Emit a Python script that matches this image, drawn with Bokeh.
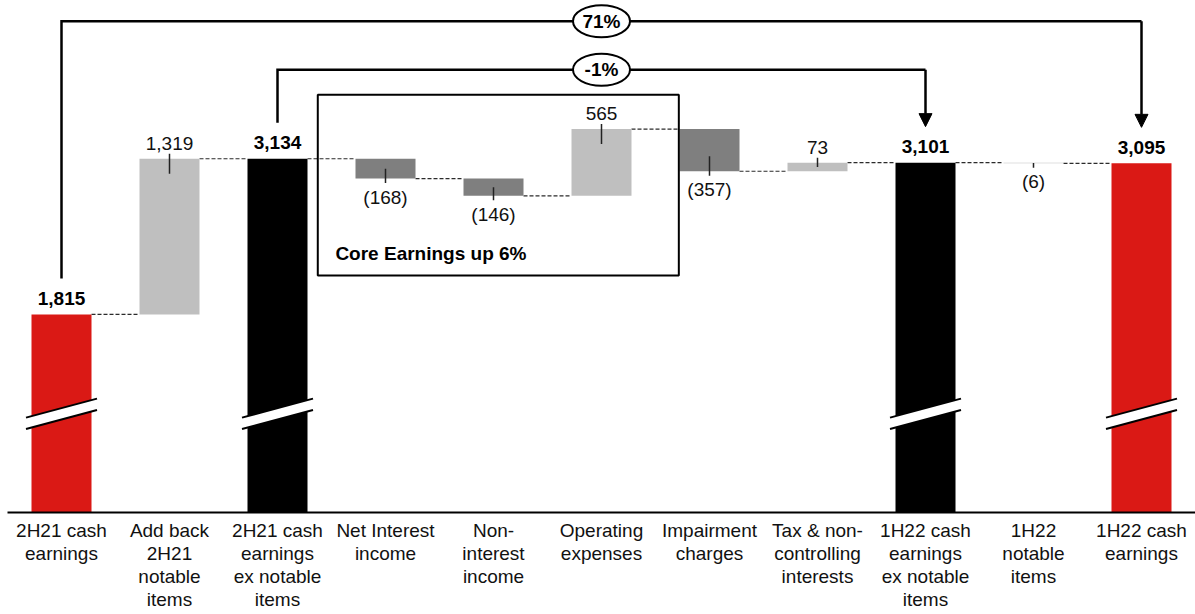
from bokeh.plotting import figure
from bokeh.models import Range1d, FixedTicker, ColumnDataSource, Arrow, NormalHead
from bokeh.core.properties import value
from bokeh.embed import file_html
from bokeh.resources import INLINE

# ---- data -------------------------------------------------------------
categories = [
    "2H21 cash\nearnings",
    "Add back\n2H21\nnotable\nitems",
    "2H21 cash\nearnings\nex notable\nitems",
    "Net Interest\nincome",
    "Non-\ninterest\nincome",
    "Operating\nexpenses",
    "Impairment\ncharges",
    "Tax & non-\ncontrolling\ninterests",
    "1H22 cash\nearnings\nex notable\nitems",
    "1H22\nnotable\nitems",
    "1H22 cash\nearnings",
]
step_kind = ["total", "delta", "total", "delta", "delta", "delta",
             "delta", "delta", "total", "delta", "total"]
amounts = [1815, 1319, 3134, -168, -146, 565, -357, 73, 3101, -6, 3095]
bar_colors = ["#DA1915", "#BFBFBF", "#000000", "#7F7F7F", "#7F7F7F", "#BFBFBF",
              "#7F7F7F", "#BFBFBF", "#000000", "#BFBFBF", "#DA1915"]
# growth brackets: (from index, to index)
brackets = [(0, 10), (2, 8)]
core_note = "Core Earnings up 6%"

# ---- layout constants -------------------------------------------------
FRAME_W, FRAME_H = 1188, 512
Y_FLOOR, Y_TOP = 136.0, 4475.0          # truncated value axis
UPP = (Y_TOP - Y_FLOOR) / FRAME_H       # value units per pixel
BW = 60 / 108                           # bar width in category units
FONT = value("Liberation Sans")
REG_SIZE = "19px"
BOLD_SIZE = "19px"


def px(n):
    return n * UPP


# ---- waterfall geometry -------------------------------------------------
bottoms, tops, levels = [], [], []
level = 0
for kind, amt in zip(step_kind, amounts):
    if kind == "total":
        b, t = Y_FLOOR, amt
        level = amt
    else:
        b, t = min(level, level + amt), max(level, level + amt)
        level += amt
    bottoms.append(b)
    tops.append(t)
    levels.append(level)

xs = list(range(len(categories)))

p = figure(frame_width=FRAME_W, frame_height=FRAME_H,
           x_range=Range1d(-0.5, 10.5), y_range=Range1d(Y_FLOOR, Y_TOP),
           output_backend="svg", toolbar_location=None, y_axis_location=None,
           min_border_left=7, min_border_right=0, min_border_top=0,
           min_border_bottom=0)
p.grid.visible = False
p.outline_line_color = None
p.background_fill_color = "white"

# connectors between consecutive bars
p.segment(x0=[i + BW / 2 for i in xs[:-1]], x1=[i + 1 - BW / 2 for i in xs[:-1]],
          y0=levels[:-1], y1=levels[:-1], line_color="#2b2b2b",
          line_width=1.2, line_dash="4 2")

# bars
src = ColumnDataSource(dict(x=xs, bottom=bottoms, top=tops, color=bar_colors))
p.vbar(x="x", width=BW, bottom="bottom", top="top", fill_color="color",
       line_color=None, source=src)

# axis-break marks on the full-height bars
yc = Y_FLOOR + px(98.7)
hw, rise, gap = 35.5 / 108, px(9.5), px(5.7)
brk_xs, brk_ys, l_xs, l_ys = [], [], [], []
for i, kind in enumerate(step_kind):
    if kind != "total":
        continue
    brk_xs.append([i - hw, i + hw, i + hw, i - hw])
    brk_ys.append([yc - rise - gap, yc + rise - gap, yc + rise + gap, yc - rise + gap])
    l_xs += [[i - hw, i + hw], [i - hw, i + hw]]
    l_ys += [[yc - rise - gap, yc + rise - gap], [yc - rise + gap, yc + rise + gap]]
p.patches(brk_xs, brk_ys, fill_color="white", line_color=None)
p.multi_line(l_xs, l_ys, line_color="black", line_width=2)

# leader ticks and labels for the steps
lead_x0, lead_y0, lead_y1 = [], [], []
pos_x, pos_y, pos_t = [], [], []
neg_x, neg_y, neg_t = [], [], []
tot_x, tot_y, tot_t = [], [], []
for i, (kind, amt) in enumerate(zip(step_kind, amounts)):
    if kind == "total":
        tot_x.append(i); tot_y.append(amt); tot_t.append(f"{amt:,}")
        continue
    inside = min(px(15), (tops[i] - bottoms[i]) / 2)
    lead_x0.append(i)
    if amt >= 0:
        lead_y0.append(tops[i] + px(5)); lead_y1.append(tops[i] - inside)
        pos_x.append(i); pos_y.append(tops[i]); pos_t.append(f"{amt:,}")
    else:
        lead_y0.append(bottoms[i] - px(4.5)); lead_y1.append(bottoms[i] + inside)
        neg_x.append(i); neg_y.append(bottoms[i]); neg_t.append(f"({abs(amt):,})")
p.segment(x0=lead_x0, x1=lead_x0, y0=lead_y0, y1=lead_y1,
          line_color="#222222", line_width=1.5)

p.text(x=pos_x, y=pos_y, text=pos_t, y_offset=-15.5, text_align="center",
       text_baseline="middle", text_font=FONT, text_font_size=REG_SIZE,
       text_color="#111111")
p.text(x=neg_x, y=neg_y, text=neg_t, y_offset=18.5, text_align="center",
       text_baseline="middle", text_font=FONT, text_font_size=REG_SIZE,
       text_color="#111111")
p.text(x=tot_x, y=tot_y, text=tot_t, y_offset=-16, text_align="center",
       text_baseline="middle", text_font=FONT, text_font_size=BOLD_SIZE,
       text_font_style="bold", text_color="#000000")

# core earnings box
box_l, box_r = 3 - 0.627, 5 + 0.716
box_t, box_b = Y_TOP - px(94.3), Y_TOP - px(275)
p.quad(left=[box_l], right=[box_r], top=[box_t], bottom=[box_b],
       fill_color=None, line_color="black", line_width=2)
p.text(x=[box_l + 0.163], y=[box_b], text=[core_note], y_offset=-22.4,
       text_align="left", text_baseline="middle", text_font=FONT,
       text_font_size=BOLD_SIZE, text_font_style="bold", text_color="#000000")

# growth brackets with arrows
bracket_rows = [20.7, 69.3]
for (a, b), row in zip(brackets, bracket_rows):
    yb = Y_TOP - px(row)
    p.line(x=[a, a, b], y=[amounts[a] + px(36), yb, yb], line_color="black",
           line_width=2.5, line_join="miter")
    p.add_layout(Arrow(end=NormalHead(size=13, fill_color="black",
                                      line_color="black", line_width=1),
                       x_start=b, y_start=yb, x_end=b, y_end=amounts[b] + px(36),
                       line_color="black", line_width=2.5))
    pct = round((amounts[b] / amounts[a] - 1) * 100)
    mid = (a + b) / 2
    p.ellipse(x=[mid], y=[yb], width=57, height=32, width_units="screen",
              height_units="screen", fill_color="white", line_color="black",
              line_width=2)
    p.text(x=[mid], y=[yb], text=[f"{pct}%"], text_align="center",
           text_baseline="middle", text_font=FONT, text_font_size=BOLD_SIZE,
           text_font_style="bold", text_color="#000000")

# category axis
ax = p.xaxis[0]
ax.ticker = FixedTicker(ticks=xs)
ax.major_label_overrides = {i: c for i, c in enumerate(categories)}
ax.major_tick_line_color = None
ax.minor_tick_line_color = None
ax.axis_line_color = "black"
ax.axis_line_width = 2
ax.major_label_standoff = 1
ax.major_label_text_font = "Liberation Sans"
ax.major_label_text_font_size = REG_SIZE
ax.major_label_text_color = "#111111"
ax.major_label_text_line_height = 1.1

open("out.html", "w").write(file_html(p, INLINE))
